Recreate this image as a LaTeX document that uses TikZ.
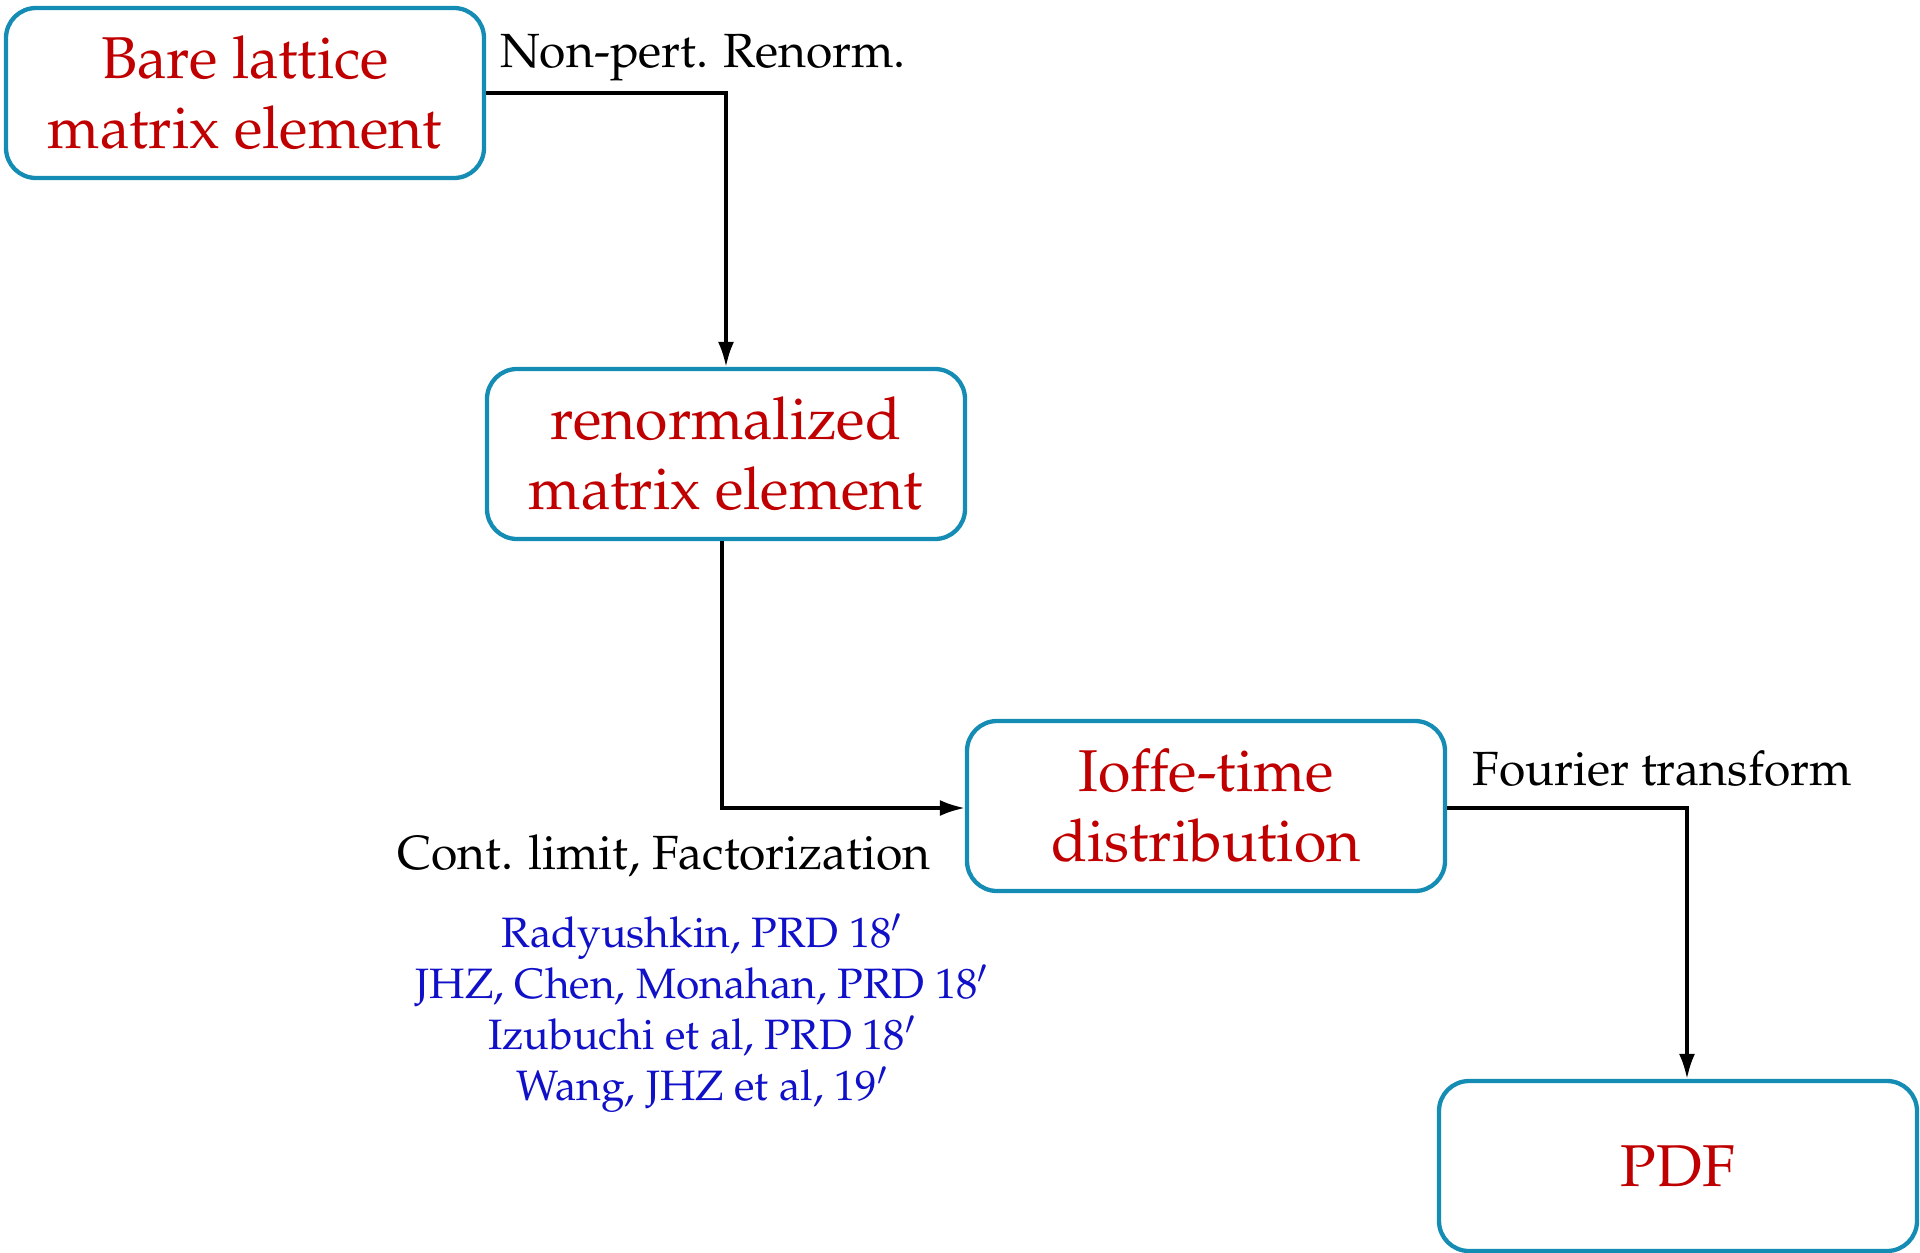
\documentclass[tikz,border=0pt]{standalone}
\usepackage[T1]{fontenc}
\usepackage{mathpazo}
\usetikzlibrary{arrows.meta,calc}
\definecolor{boxred}{RGB}{192,0,0}
\definecolor{refblue}{RGB}{16,16,200}
\definecolor{boxedge}{RGB}{20,140,180}
\begin{document}
\begin{tikzpicture}[x=1pt,y=-1pt,
  stagebox/.style={draw=boxedge, line width=4.3pt, rounded corners=30pt,
    minimum width=478pt, minimum height=170pt, align=center,
    text=boxred, font=\fontsize{59}{70}\selectfont},
  flow/.style={line width=3.2pt, -{Latex[length=25pt,width=16pt]}},
  steplabel/.style={font=\fontsize{48}{58}\selectfont, text=black, inner sep=0pt},
  reflabel/.style={font=\fontsize{42.5}{51}\selectfont, text=refblue, align=center, inner sep=0pt}]
\useasboundingbox (0,0) rectangle (1920,1253);
\node[stagebox] (b1) at (245,93) {Bare lattice\\matrix element};
\node[stagebox] (b2) at (726,454) {renormalized\\matrix element};
\node[stagebox] (b3) at (1206,806) {Ioffe-time\\distribution};
\node[stagebox] (b4) at (1678,1166) {PDF};
\draw[flow] (b1.east) -| (b2.north);
\draw[flow] ([xshift=-4pt]b2.south) |- ([yshift=-2pt]b3.west);
\draw[flow] ([yshift=-2pt]b3.east) -| ([xshift=9pt]b4.north);
\node[steplabel] (l1) at (703,58) {Non-pert. Renorm.};
\node[steplabel] (l2) at (1662,769) {Fourier transform};
\node[steplabel] (l3) at (664,856) {Cont. limit, Factorization};
\node[reflabel] (refs) at (702,1013) {Radyushkin, PRD 18$'$\\JHZ, Chen, Monahan, PRD 18$'$\\Izubuchi et al, PRD 18$'$\\Wang, JHZ et al, 19$'$};
\end{tikzpicture}
\end{document}
